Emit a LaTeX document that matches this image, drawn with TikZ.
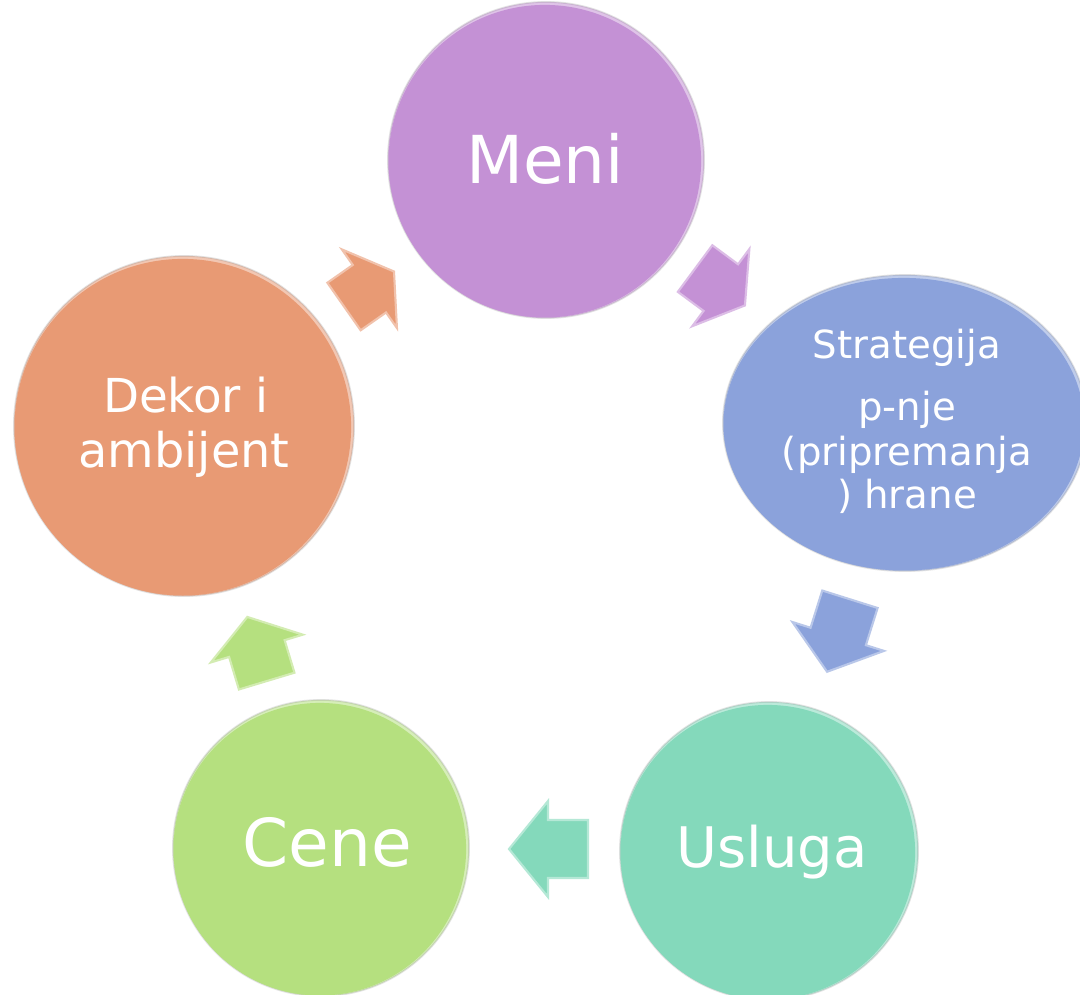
\documentclass[tikz,border=0pt]{standalone}
\usepackage{fontspec}
\setmainfont{DejaVu Sans}
\usetikzlibrary{shapes.geometric,calc}
\definecolor{cMeni}{HTML}{C491D5}
\definecolor{cStrat}{HTML}{8BA2DB}
\definecolor{cUsl}{HTML}{84D9BB}
\definecolor{cCene}{HTML}{B5E07F}
\definecolor{cDekor}{HTML}{E89A74}
% #1 x, #2 y, #3 angle, #4 length, #5 head length, #6 colour
\newcommand\cyclearrow[6]{%
  \filldraw[fill=#6, draw=#6!60!white, line width=0.6pt, line join=miter,
    shift={(#1,#2)}, rotate=#3]
    (-#4/2,-29) -- (#4/2-#5,-29) -- (#4/2-#5,-48) -- (#4/2,0)
    -- (#4/2-#5,48) -- (#4/2-#5,29) -- (-#4/2,29) -- cycle;}
\tikzset{
  disc/.style={circle, inner sep=0pt, draw=black!50, draw opacity=0.22, line width=0.5pt},
  lbl/.style={text=white, inner sep=0pt, anchor=base}
}
\begin{document}
\begin{tikzpicture}[x=0.01cm, y=-0.01cm]
\useasboundingbox (0,0) rectangle (1080,994);
\clip (0,0) rectangle (1080,994);
\fill[white] (0,0) rectangle (1080,994);

% Meni
\node[disc, fill=cMeni!55!white, minimum size=3.16cm] (meni) at (546,160) {};
\fill[cMeni] ($(meni.center)+(-1.2,1.2)$) circle [radius=1.562cm];
% Strategija
\node[ellipse, inner sep=0pt, draw=black!50, draw opacity=0.22, line width=0.5pt,
      fill=cStrat!55!white, minimum width=3.64cm, minimum height=2.96cm] (strat) at (905,423) {};
\fill[cStrat] ($(strat.center)+(-1.2,1.2)$) ellipse [x radius=1.802cm, y radius=1.462cm];
% Usluga
\node[disc, fill=cUsl!55!white, minimum size=2.98cm] (usl) at (769,851) {};
\fill[cUsl] ($(usl.center)+(-1.2,1.2)$) circle [radius=1.472cm];
% Cene
\node[disc, fill=cCene!55!white, minimum size=2.96cm] (cene) at (321,848) {};
\fill[cCene] ($(cene.center)+(-1.2,1.2)$) circle [radius=1.462cm];
% Dekor
\node[disc, fill=cDekor!55!white, minimum size=3.40cm] (dekor) at (184,426) {};
\fill[cDekor] ($(dekor.center)+(-1.2,1.2)$) circle [radius=1.682cm];

% block arrows
\cyclearrow{720}{287}{-36.5}{62}{30}{cMeni}
\cyclearrow{838.5}{635.5}{-107.5}{76}{37}{cStrat}
\cyclearrow{548.5}{849}{180}{79}{39}{cUsl}
\cyclearrow{257}{649}{106.8}{67}{33}{cCene}
\cyclearrow{369}{289}{35}{61}{30}{cDekor}

% texts
\node[lbl, font=\fontsize{18.8}{22}\selectfont] (tmeni) at (545,183) {Meni};
\node[lbl, font=\fontsize{11}{13}\selectfont] (ts1) at (907,358) {Strategija};
\node[lbl, font=\fontsize{11}{13}\selectfont] (ts2) at (907,420) {p-nje};
\node[lbl, font=\fontsize{11}{13}\selectfont] (ts3) at (907,465) {(pripremanja};
\node[lbl, font=\fontsize{11}{13}\selectfont] (ts4) at (907,508) {) hrane};
\node[lbl, font=\fontsize{15.9}{19}\selectfont] (tusl) at (772,867) {Usluga};
\node[lbl, font=\fontsize{18.8}{22}\selectfont] (tcene) at (327.5,866) {Cene};
\node[lbl, font=\fontsize{13.3}{16}\selectfont] (td1) at (186,412) {Dekor i};
\node[lbl, font=\fontsize{13.6}{16}\selectfont] (td2) at (184,467) {ambijent};
\end{tikzpicture}
\end{document}
